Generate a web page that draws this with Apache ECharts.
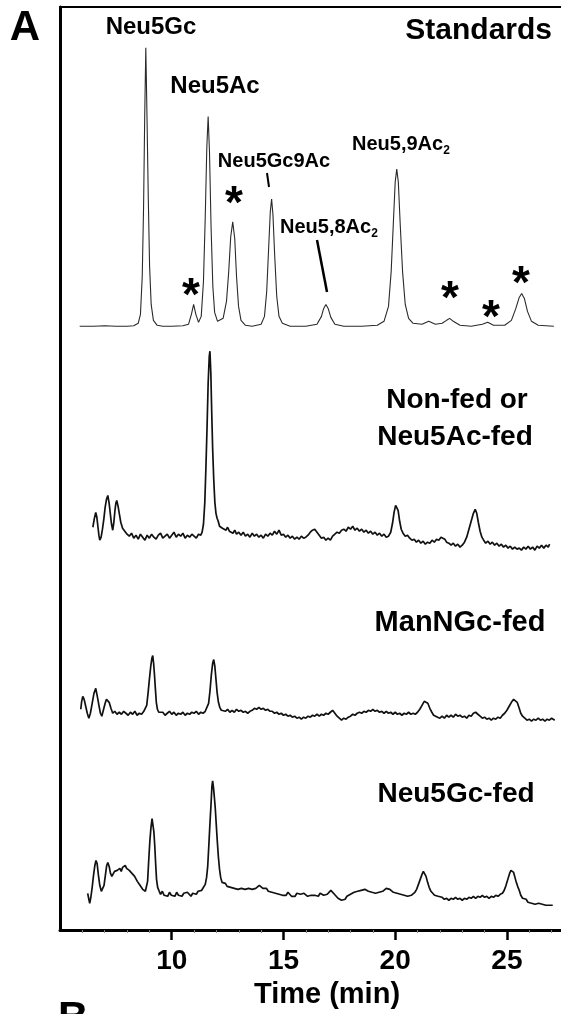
<!DOCTYPE html>
<html><head><meta charset="utf-8">
<script src="https://cdn.jsdelivr.net/npm/echarts@6/dist/echarts.min.js"></script>
<style>html,body{margin:0;padding:0;background:#fff}#c{width:561px;height:1014px}</style>
</head><body><div id="c"></div>
<script>
// ---- data: [time (min), detector signal relative to each trace's own baseline] ----
const xTickLabels = [10, 15, 20, 25];
const traceNames = ['Standards', 'Non-fed or Neu5Ac-fed', 'ManNGc-fed', 'Neu5Gc-fed'];
const traceOffsets = [607, 395, 218, 37];

const standards = [[5.88,0],[6.5,0],[7.0,0.5],[7.5,0],[8.0,0],[8.3,0.5],[8.5,3],[8.6,12],[8.68,50],[8.74,120],[8.79,210],[8.84,280],[8.89,215],[8.95,130],[9.01,60],[9.08,22],[9.18,6],[9.35,1],[9.6,0],[10.0,0],[10.5,0.5],[10.75,2],[10.88,12],[10.98,22],[11.08,12],[11.2,4],[11.32,10],[11.42,45],[11.5,110],[11.57,180],[11.63,211],[11.69,175],[11.76,100],[11.84,40],[11.92,14],[12.05,5],[12.3,8],[12.45,25],[12.55,55],[12.64,90],[12.73,105],[12.82,88],[12.9,50],[12.99,20],[13.1,6],[13.3,1],[13.6,0],[14.0,2],[14.15,10],[14.25,35],[14.33,75],[14.41,115],[14.47,128],[14.53,112],[14.61,70],[14.7,30],[14.8,10],[14.95,3],[15.3,0],[16.0,0],[16.5,2],[16.7,10],[16.8,18],[16.9,22],[17.0,18],[17.12,9],[17.3,2],[17.7,0],[18.5,0],[19.2,1],[19.5,5],[19.7,20],[19.82,55],[19.92,105],[20.0,145],[20.07,158],[20.14,145],[20.23,100],[20.33,55],[20.45,22],[20.6,8],[20.8,3],[21.2,2],[21.5,5],[21.8,2],[22.1,3],[22.3,6],[22.44,8],[22.6,5],[22.9,1],[23.4,0],[23.9,2],[24.14,4],[24.4,1],[24.9,1],[25.2,6],[25.4,18],[25.55,29],[25.66,33],[25.78,28],[25.92,15],[26.1,5],[26.4,1],[27.1,0]];

const nonFed = [[6.47,10],[6.53,18],[6.6,25],[6.65,20],[6.7,10],[6.74,2],[6.78,-3],[6.84,0],[6.9,8],[6.96,18],[7.02,30],[7.08,38],[7.14,42],[7.2,34],[7.25,24],[7.3,14],[7.36,7],[7.41,15],[7.46,27],[7.5,34],[7.54,37],[7.6,31],[7.66,23],[7.72,15],[7.8,9],[7.9,6],[8.0,3],[8.1,1],[8.2,4],[8.3,-1],[8.4,2],[8.5,-2],[8.6,3],[8.7,0],[8.8,-3],[8.9,2],[9.0,-1],[9.1,3],[9.2,0],[9.3,-2],[9.4,2],[9.5,4],[9.6,-1],[9.7,1],[9.8,3],[9.9,-1],[10.0,2],[10.1,5],[10.2,0],[10.3,3],[10.4,1],[10.5,4],[10.6,-1],[10.7,2],[10.8,0],[10.9,3],[11.0,1],[11.1,-1],[11.2,3],[11.3,2],[11.36,5],[11.42,13],[11.48,35],[11.53,70],[11.58,110],[11.63,155],[11.68,182],[11.71,187],[11.75,165],[11.79,125],[11.83,90],[11.88,58],[11.93,35],[11.98,24],[12.03,19],[12.08,16],[12.14,11],[12.2,13],[12.27,9],[12.35,11],[12.43,7],[12.5,10],[12.58,6],[12.66,8],[12.74,4],[12.82,7],[12.9,3],[13.0,5],[13.1,2],[13.2,5],[13.3,1],[13.4,3],[13.5,0],[13.6,4],[13.7,1],[13.8,3],[13.9,0],[14.0,2],[14.1,-1],[14.2,3],[14.3,1],[14.4,4],[14.5,2],[14.6,6],[14.7,3],[14.8,7],[14.9,2],[15.0,3],[15.1,0],[15.2,2],[15.3,-1],[15.4,1],[15.5,-2],[15.6,0],[15.7,-2],[15.8,1],[15.9,-1],[16.0,0],[16.1,2],[16.2,5],[16.3,7],[16.4,8],[16.5,5],[16.6,2],[16.7,-1],[16.8,0],[16.9,-3],[17.0,-1],[17.1,-3],[17.2,1],[17.3,3],[17.4,5],[17.5,4],[17.6,7],[17.7,8],[17.8,6],[17.9,10],[18.0,8],[18.1,11],[18.2,7],[18.3,9],[18.4,6],[18.5,8],[18.6,5],[18.7,7],[18.8,4],[18.9,6],[19.0,3],[19.1,5],[19.2,2],[19.3,4],[19.4,1],[19.5,3],[19.6,0],[19.7,1],[19.8,5],[19.88,14],[19.95,25],[20.02,32],[20.07,34],[20.13,27],[20.2,16],[20.27,8],[20.35,4],[20.45,1],[20.55,2],[20.65,-1],[20.75,-3],[20.85,-2],[20.95,-5],[21.05,-3],[21.15,-6],[21.25,-4],[21.35,-7],[21.45,-5],[21.55,-6],[21.65,-3],[21.75,-5],[21.85,-2],[21.95,-3],[22.05,0],[22.13,1],[22.22,-2],[22.3,-5],[22.4,-6],[22.5,-8],[22.6,-6],[22.7,-9],[22.8,-7],[22.9,-10],[23.0,-8],[23.1,-5],[23.2,0],[23.3,8],[23.4,16],[23.5,24],[23.58,28],[23.65,24],[23.72,15],[23.8,6],[23.88,0],[23.96,-3],[24.05,-6],[24.15,-4],[24.25,-7],[24.35,-5],[24.45,-8],[24.55,-6],[24.65,-9],[24.75,-7],[24.85,-10],[24.95,-8],[25.05,-11],[25.15,-9],[25.25,-12],[25.35,-10],[25.45,-12],[25.55,-11],[25.65,-13],[25.75,-10],[25.85,-12],[25.95,-9],[26.05,-12],[26.15,-10],[26.25,-13],[26.35,-9],[26.45,-11],[26.55,-8],[26.65,-11],[26.75,-8],[26.85,-10],[26.91,-7]];

const manNGcFed = [[5.93,4],[5.97,12],[6.02,17],[6.08,14],[6.15,7],[6.22,0],[6.29,-5],[6.36,0],[6.44,10],[6.52,20],[6.6,25],[6.67,17],[6.75,7],[6.81,0],[6.87,-3],[6.94,3],[7.02,10],[7.08,14],[7.14,14],[7.2,11],[7.28,5],[7.36,0],[7.45,2],[7.55,-1],[7.65,1],[7.75,-1],[7.85,2],[7.95,0],[8.05,-2],[8.15,1],[8.25,-1],[8.35,2],[8.45,-2],[8.55,0],[8.65,-1],[8.75,2],[8.82,4],[8.88,8],[8.94,20],[9.0,34],[9.06,47],[9.11,55],[9.15,58],[9.19,50],[9.23,38],[9.27,24],[9.31,11],[9.36,4],[9.42,1],[9.5,-1],[9.6,1],[9.7,-2],[9.8,0],[9.9,2],[10.0,-1],[10.1,1],[10.2,-2],[10.3,0],[10.4,-1],[10.5,1],[10.6,-2],[10.7,0],[10.8,-1],[10.9,1],[11.0,0],[11.1,2],[11.2,-1],[11.3,1],[11.4,0],[11.5,2],[11.58,4],[11.65,10],[11.71,22],[11.77,38],[11.83,50],[11.88,54],[11.93,47],[11.98,34],[12.03,21],[12.09,11],[12.15,6],[12.22,3],[12.3,5],[12.4,2],[12.5,4],[12.6,1],[12.7,3],[12.8,1],[12.9,4],[13.0,2],[13.1,3],[13.2,1],[13.3,2],[13.4,0],[13.5,2],[13.6,3],[13.7,5],[13.8,4],[13.9,6],[14.0,4],[14.1,5],[14.2,3],[14.3,4],[14.4,2],[14.5,2],[14.6,0],[14.7,1],[14.8,-1],[14.9,0],[15.0,-2],[15.1,-1],[15.2,-3],[15.3,-2],[15.4,-4],[15.5,-3],[15.6,-5],[15.7,-4],[15.8,-6],[15.9,-4],[16.0,-5],[16.1,-3],[16.2,-4],[16.3,-2],[16.4,-3],[16.5,-1],[16.6,-3],[16.7,-1],[16.8,-2],[16.9,0],[17.0,-1],[17.1,1],[17.2,3],[17.3,0],[17.4,-3],[17.5,-5],[17.6,-7],[17.7,-5],[17.8,-6],[17.9,-4],[18.0,-3],[18.1,-1],[18.2,-2],[18.3,0],[18.4,1],[18.5,0],[18.6,2],[18.7,1],[18.8,3],[18.9,2],[19.0,4],[19.1,2],[19.2,3],[19.3,1],[19.4,2],[19.5,0],[19.6,2],[19.7,0],[19.8,1],[19.9,-1],[20.0,1],[20.1,-1],[20.2,0],[20.3,-2],[20.4,0],[20.5,-1],[20.6,1],[20.7,-1],[20.8,0],[20.9,-1],[21.0,1],[21.1,4],[21.2,8],[21.3,12],[21.38,13],[21.46,10],[21.55,5],[21.64,1],[21.72,-2],[21.8,-3],[21.9,-4],[22.0,-5],[22.1,-3],[22.2,-5],[22.3,-2],[22.4,-4],[22.5,-2],[22.6,-4],[22.7,-1],[22.8,-3],[22.9,-2],[23.0,-4],[23.1,-3],[23.2,-5],[23.3,-2],[23.4,-3],[23.5,0],[23.6,1],[23.7,-1],[23.8,-3],[23.9,-5],[24.0,-4],[24.1,-6],[24.2,-5],[24.3,-7],[24.4,-5],[24.5,-6],[24.6,-4],[24.7,-5],[24.8,-2],[24.9,0],[25.0,3],[25.1,7],[25.2,11],[25.3,14],[25.38,15],[25.46,11],[25.55,5],[25.62,0],[25.7,-3],[25.8,-5],[25.9,-7],[26.0,-6],[26.1,-8],[26.2,-6],[26.3,-7],[26.4,-5],[26.5,-7],[26.6,-6],[26.7,-8],[26.8,-6],[26.9,-7],[27.0,-5],[27.14,-7]];

const neu5GcFed = [[6.24,0],[6.29,-6],[6.33,-10],[6.38,-4],[6.44,6],[6.5,18],[6.56,28],[6.61,33],[6.66,30],[6.72,18],[6.78,8],[6.85,2],[6.91,1],[6.97,8],[7.03,18],[7.09,28],[7.14,31],[7.2,27],[7.26,20],[7.32,17],[7.38,19],[7.44,22],[7.5,20],[7.56,23],[7.62,21],[7.68,25],[7.74,22],[7.8,26],[7.86,24],[7.92,28],[7.98,25],[8.04,27],[8.1,23],[8.16,24],[8.22,20],[8.28,21],[8.34,17],[8.4,16],[8.46,12],[8.52,13],[8.58,8],[8.64,7],[8.7,4],[8.76,5],[8.82,2],[8.87,1],[8.92,12],[8.97,33],[9.02,52],[9.07,66],[9.12,75],[9.16,74],[9.2,62],[9.24,48],[9.28,30],[9.32,14],[9.37,6],[9.44,2],[9.5,-1],[9.58,2],[9.66,-2],[9.74,0],[9.82,-3],[9.9,1],[9.98,-2],[10.06,0],[10.14,-3],[10.22,1],[10.3,-2],[10.38,-1],[10.46,-3],[10.54,0],[10.62,-2],[10.7,1],[10.78,-1],[10.86,-3],[10.94,0],[11.02,1],[11.1,-1],[11.18,2],[11.26,0],[11.34,3],[11.42,5],[11.5,9],[11.56,16],[11.61,27],[11.66,48],[11.71,70],[11.76,90],[11.8,108],[11.83,113],[11.87,106],[11.91,96],[11.95,85],[11.99,70],[12.04,52],[12.09,36],[12.14,24],[12.19,16],[12.25,11],[12.32,9],[12.4,10],[12.48,7],[12.56,9],[12.64,6],[12.72,8],[12.8,5],[12.88,7],[12.96,4],[13.04,6],[13.12,5],[13.2,7],[13.28,4],[13.36,6],[13.44,5],[13.52,7],[13.6,4],[13.68,6],[13.76,5],[13.84,7],[13.92,8],[14.0,6],[14.08,5],[14.16,3],[14.24,5],[14.32,2],[14.4,3],[14.48,1],[14.56,3],[14.64,0],[14.72,2],[14.8,-1],[14.88,1],[14.96,-2],[15.04,0],[15.12,-2],[15.2,1],[15.28,-1],[15.36,-3],[15.44,-1],[15.52,-3],[15.6,0],[15.68,-2],[15.76,-1],[15.84,-3],[15.92,0],[16.0,-1],[16.08,-3],[16.16,-1],[16.24,-2],[16.32,0],[16.4,-2],[16.48,-1],[16.56,-3],[16.64,0],[16.72,-1],[16.8,-2],[16.88,0],[16.96,-1],[17.04,1],[17.12,3],[17.2,1],[17.28,-1],[17.36,-3],[17.44,-5],[17.52,-4],[17.6,-7],[17.68,-5],[17.76,-6],[17.84,-3],[17.92,-4],[18.0,-1],[18.08,-2],[18.16,1],[18.24,0],[18.32,2],[18.4,1],[18.48,3],[18.56,2],[18.64,4],[18.72,3],[18.8,2],[18.88,3],[18.96,1],[19.04,2],[19.12,0],[19.2,2],[19.28,1],[19.36,3],[19.44,2],[19.52,4],[19.6,5],[19.68,6],[19.76,4],[19.84,3],[19.92,1],[20.0,2],[20.08,0],[20.16,1],[20.24,-1],[20.32,0],[20.4,-2],[20.48,-1],[20.56,-3],[20.64,-4],[20.72,-2],[20.8,-1],[20.88,1],[20.96,4],[21.04,9],[21.12,14],[21.2,19],[21.26,22],[21.32,21],[21.38,17],[21.45,11],[21.52,6],[21.6,2],[21.68,0],[21.76,-2],[21.84,-4],[21.92,-3],[22.0,-5],[22.1,-4],[22.2,-6],[22.3,-5],[22.4,-7],[22.5,-5],[22.6,-6],[22.7,-4],[22.8,-6],[22.9,-5],[23.0,-7],[23.1,-5],[23.2,-6],[23.3,-4],[23.4,-5],[23.5,-3],[23.6,-5],[23.7,-3],[23.8,-4],[23.9,-2],[24.0,-4],[24.1,-3],[24.2,-5],[24.3,-3],[24.4,-4],[24.5,-2],[24.6,-3],[24.7,-1],[24.8,0],[24.88,3],[24.96,8],[25.04,14],[25.12,20],[25.18,23],[25.24,24],[25.3,21],[25.36,16],[25.42,11],[25.48,7],[25.55,3],[25.62,-2],[25.7,-5],[25.78,-7],[25.86,-6],[25.94,-9],[26.02,-7],[26.1,-10],[26.18,-8],[26.26,-11],[26.34,-9],[26.42,-10],[26.5,-8],[26.58,-11],[26.66,-9],[26.74,-12],[26.82,-10],[26.9,-12],[26.98,-10],[27.05,-12]];

const traces = [standards, nonFed, manNGcFed, neu5GcFed];

// ---- chart ----
const FONT = '"Liberation Sans", Arial, Helvetica, sans-serif';
const chart = echarts.init(document.getElementById('c'), null, {renderer: 'canvas'});
const bold = (size) => 'bold ' + size + 'px ' + FONT;

function label(text, x, y, size, align) {
  return {type: 'text', z: 50, style: {text, x, y, font: bold(size), fill: '#000',
    textAlign: align || 'center', textVerticalAlign: 'middle'}};
}
function subLabel(main, sub, x, y, size) {
  return {type: 'text', z: 50, style: {text: '{a|' + main + '}{s|' + sub + '}', x, y,
    textAlign: 'left', textVerticalAlign: 'middle',
    rich: {a: {font: bold(size), fill: '#000', lineHeight: size + 2},
           s: {font: bold(Math.round(size * 0.62)), fill: '#000', verticalAlign: 'bottom', lineHeight: size + 6}}}};
}
function star(x, y) {
  return {type: 'text', z: 50, style: {text: '*', x, y: y + 8, font: bold(46), fill: '#000',
    textAlign: 'center', textVerticalAlign: 'middle'}};
}

const series = traces.map((tr, i) => ({
  name: traceNames[i], type: 'line', showSymbol: false, silent: true, animation: false,
  lineStyle: {color: i === 0 ? '#2a2a2a' : '#111', width: i === 0 ? 1.1 : 1.7},
  data: tr.map(p => [p[0], p[1] + traceOffsets[i]])
}));

chart.setOption({
  animation: false,
  backgroundColor: '#fff',
  grid: {left: 60, right: 0, top: 7, bottom: 79, containLabel: false},
  xAxis: [{
    type: 'value', min: 5, max: 27.42, interval: 5, position: 'bottom',
    axisLine: {show: true, lineStyle: {color: '#000', width: 3}},
    axisTick: {show: true, inside: false, length: 10, lineStyle: {color: '#000', width: 2.5}, customValues: xTickLabels},
    minorTick: {show: true, splitNumber: 5, length: 3, lineStyle: {color: '#888', width: 1}},
    axisLabel: {show: true, customValues: xTickLabels, margin: 17, color: '#000', fontSize: 28, fontWeight: 'bold', fontFamily: FONT},
    splitLine: {show: false},
    name: 'Time (min)', nameLocation: 'middle', nameGap: 41,
    nameTextStyle: {color: '#000', fontSize: 29, fontWeight: 'bold', fontFamily: FONT, padding: [0, 0, 0, 33]}
  }, {
    type: 'value', min: 5, max: 27.42, position: 'top',
    axisLine: {show: true, lineStyle: {color: '#000', width: 2}},
    axisTick: {show: false}, axisLabel: {show: false}, splitLine: {show: false}
  }],
  yAxis: {
    type: 'value', min: 0, max: 928,
    axisLine: {show: true, lineStyle: {color: '#000', width: 3}},
    axisTick: {show: false}, axisLabel: {show: false}, splitLine: {show: false}
  },
  series,
  graphic: [
    label('A', 25, 28, 42),
    label('Neu5Gc', 151, 27, 24),
    label('Neu5Ac', 215, 86, 24),
    label('Neu5Gc9Ac', 274, 161, 20),
    subLabel('Neu5,9Ac', '2', 352, 144, 20),
    subLabel('Neu5,8Ac', '2', 280, 227, 20),
    label('Standards', 552, 31, 30, 'right'),
    label('Non-fed or', 457, 400, 28),
    label('Neu5Ac-fed', 455, 437, 28),
    label('ManNGc-fed', 460, 623, 29),
    label('Neu5Gc-fed', 456, 794, 28),
    {type: 'line', z: 50, shape: {x1: 267, y1: 173, x2: 269, y2: 187}, style: {stroke: '#000', lineWidth: 2}},
    {type: 'line', z: 50, shape: {x1: 317, y1: 240, x2: 327, y2: 292}, style: {stroke: '#000', lineWidth: 2.5}},
    star(191, 289), star(234, 197), star(450, 292), star(491, 311), star(521, 277),
    {type: 'text', z: 50, style: {text: 'B', x: 58, y: 998, font: bold(42), fill: '#000', textAlign: 'left', textVerticalAlign: 'top'}}
  ]
});
</script></body></html>
